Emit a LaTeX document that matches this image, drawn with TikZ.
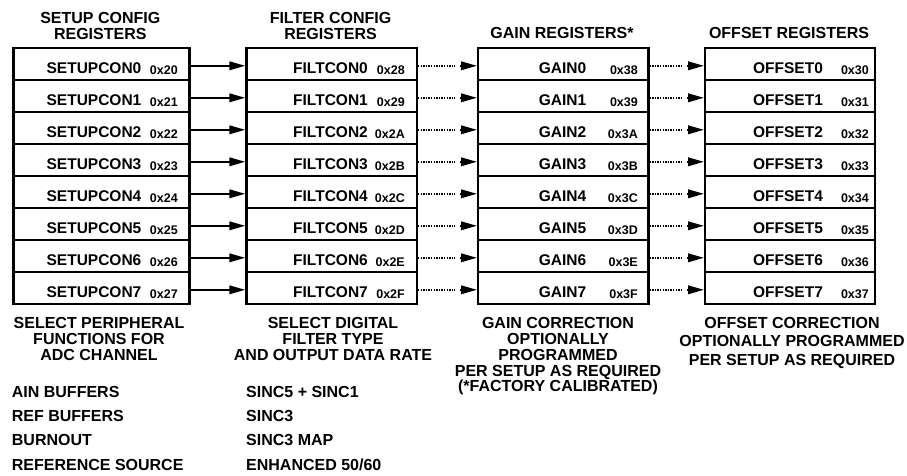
\documentclass[tikz,border=0pt]{standalone}
\usepackage{fontspec}
\setmainfont{Liberation Sans}
\usetikzlibrary{arrows.meta}
\begin{document}
\begin{tikzpicture}[x=1pt,y=-1pt,
  regbox/.style={draw, line width=2.2pt, minimum height=32pt, inner sep=0pt, anchor=north west},
  rname/.style={font=\fontsize{15.5}{18}\selectfont\bfseries, anchor=base, inner sep=0pt},
  raddr/.style={font=\fontsize{12.5}{14}\selectfont\bfseries, anchor=base east, inner sep=0pt},
  txt/.style={font=\fontsize{16}{18}\selectfont\bfseries, anchor=base, inner sep=0pt},
  ltxt/.style={font=\fontsize{16}{18}\selectfont\bfseries, anchor=base west, inner sep=0pt},
  solidarrow/.style={line width=2pt, -{Triangle[length=16pt,width=8.5pt]}},
  dotline/.style={line width=1.6pt, dash pattern=on 1.4pt off 1.2pt},
  tiparrow/.style={line width=2pt, -{Triangle[length=16pt,width=8.5pt]}}
]
\useasboundingbox (0,0) rectangle (907,476);

% headers
\node[txt] (h1a) at (100.3,24) {SETUP CONFIG};
\node[txt] (h1b) at (100.3,39.3) {REGISTERS};
\node[txt] (h2a) at (330.5,24) {FILTER CONFIG};
\node[txt] (h2b) at (330.5,39.3) {REGISTERS};
\node[txt] (h3) at (562,39) {GAIN REGISTERS*};
\node[txt] (h4) at (789,39) {OFFSET REGISTERS};

% register boxes
\foreach \i/\sa/\fa/\ga/\oa in {0/20/28/38/30,1/21/29/39/31,2/22/2A/3A/32,3/23/2B/3B/33,4/24/2C/3C/34,5/25/2D/3D/35,6/26/2E/3E/36,7/27/2F/3F/37}{
  \pgfmathsetmacro{\yt}{46.7+32*\i}
  \node[regbox, minimum width=176pt] (s\i) at (12.3,\yt) {};
  \node[regbox, minimum width=170.4pt] (f\i) at (245.3,\yt) {};
  \node[regbox, minimum width=170.3pt] (g\i) at (477,\yt) {};
  \node[regbox, minimum width=170pt] (o\i) at (704,\yt) {};
  \node[rname] (sn\i) at (94,\yt+26.6) {SETUPCON\i};
  \node[raddr] (sa\i) at (178,\yt+27.8) {0x\sa};
  \node[rname] (fn\i) at (330.5,\yt+26.6) {FILTCON\i};
  \node[raddr] (fa\i) at (405,\yt+27.8) {0x\fa};
  \node[rname] (gn\i) at (562.5,\yt+26.6) {GAIN\i};
  \node[raddr] (ga\i) at (638,\yt+27.8) {0x\ga};
  \node[rname] (on\i) at (788,\yt+26.6) {OFFSET\i};
  \node[raddr] (oa\i) at (869,\yt+27.8) {0x\oa};
  % connectors
  \draw[solidarrow] ([yshift=-2pt]s\i.east) -- ([yshift=-2pt]f\i.west);
  \draw[dotline] ([yshift=-2pt]f\i.east) -- ([xshift=-22pt,yshift=-2pt]g\i.west);
  \draw[tiparrow] ([xshift=-17pt,yshift=-2pt]g\i.west) -- ([yshift=-2pt]g\i.west);
  \draw[dotline] ([yshift=-2pt]g\i.east) -- ([xshift=-22pt,yshift=-2pt]o\i.west);
  \draw[tiparrow] ([xshift=-17pt,yshift=-2pt]o\i.west) -- ([yshift=-2pt]o\i.west);
}

% descriptions
\node[txt] (d1a) at (99,328.3) {SELECT PERIPHERAL};
\node[txt] (d1b) at (99,344.3) {FUNCTIONS FOR};
\node[txt] (d1c) at (99,360) {ADC CHANNEL};
\node[txt] (d2a) at (333,328.3) {SELECT DIGITAL};
\node[txt] (d2b) at (333,344.3) {FILTER TYPE};
\node[txt] (d2c) at (333,360) {AND OUTPUT DATA RATE};
\node[txt] (d3a) at (558,328.3) {GAIN CORRECTION};
\node[txt] (d3b) at (558,344.3) {OPTIONALLY};
\node[txt] (d3c) at (558,360) {PROGRAMMED};
\node[txt] (d3d) at (558,376) {PER SETUP AS REQUIRED};
\node[txt] (d3e) at (558,391.7) {(*FACTORY CALIBRATED)};
\node[txt] (d4a) at (792,328.3) {OFFSET CORRECTION};
\node[txt] (d4b) at (792,346.7) {OPTIONALLY PROGRAMMED};
\node[txt] (d4c) at (792,365.3) {PER SETUP AS REQUIRED};

% lists
\node[ltxt] (l1a) at (11.7,397.7) {AIN BUFFERS};
\node[ltxt] (l1b) at (11.7,421.7) {REF BUFFERS};
\node[ltxt] (l1c) at (11.7,445.7) {BURNOUT};
\node[ltxt] (l1d) at (11.7,470) {REFERENCE SOURCE};
\node[ltxt] (l2a) at (246,397.7) {SINC5 + SINC1};
\node[ltxt] (l2b) at (246,421.7) {SINC3};
\node[ltxt] (l2c) at (246,445.7) {SINC3 MAP};
\node[ltxt] (l2d) at (246,470) {ENHANCED 50/60};
\end{tikzpicture}
\end{document}
